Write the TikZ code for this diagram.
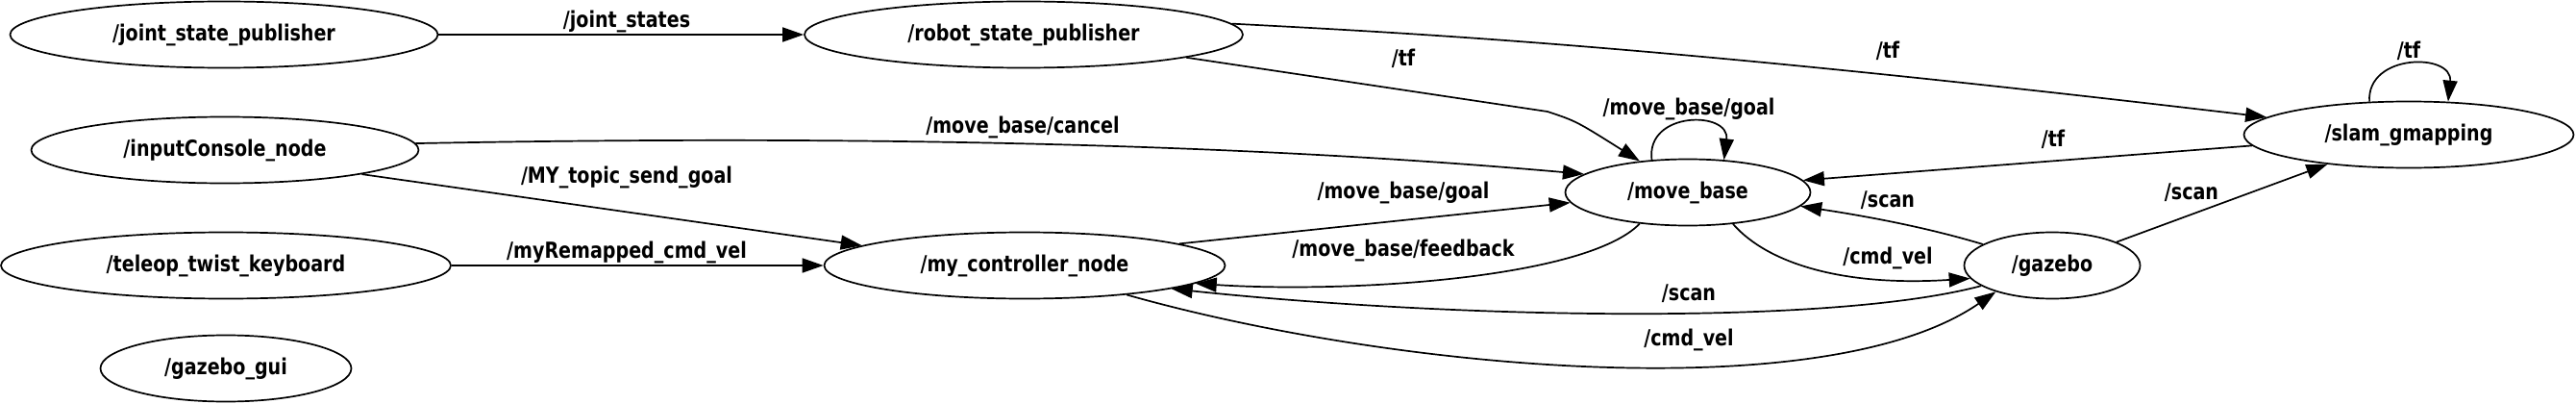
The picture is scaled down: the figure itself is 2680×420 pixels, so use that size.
\documentclass[tikz,border=0pt]{standalone}
\usepackage{fontspec}
\setmainfont{DejaVu Sans}[FakeStretch=0.83]
\usetikzlibrary{arrows.meta,shapes.geometric}

\tikzset{
  rosnode/.style={draw, ellipse, line width=1.7pt, inner sep=0pt, minimum height=69pt, font=\fontsize{23}{27}\selectfont\bfseries},
  topic/.style={inner sep=0pt, font=\fontsize{23}{27}\selectfont\bfseries},
  link/.style={line width=1.7pt, -{Triangle[length=22pt,width=15pt]}}
}

\begin{document}
\begin{tikzpicture}[x=1pt,y=-1pt]
			%%%%% START %%%%%
			\useasboundingbox (0,0) rectangle (2680,420);
			
			\node[rosnode, minimum width=445pt] (jsp) at (233,36) {/joint\_state\_publisher};
			\node[rosnode, minimum width=456pt] (rsp) at (1065,36) {/robot\_state\_publisher};
			\node[rosnode, minimum width=403pt] (icn) at (234,156) {/inputConsole\_node};
			\node[rosnode, minimum width=468pt] (ttk) at (235,276) {/teleop\_twist\_keyboard};
			\node[rosnode, minimum width=261pt] (gui) at (235,383) {/gazebo\_gui};
			\node[rosnode, minimum width=417pt] (mcn) at (1066,276) {/my\_controller\_node};
			\node[rosnode, minimum width=255pt] (mb) at (1756,200) {/move\_base};
			\node[rosnode, minimum width=343pt] (slam) at (2506,140) {/slam\_gmapping};
			\node[rosnode, minimum width=183pt] (gz) at (2135,276) {/gazebo};
			
			\draw[link] (jsp) -- (rsp) node[topic] at (652,22) {/joint\_states};
			\draw[link] (rsp.-8) -- (1610,116) .. controls (1640,126) .. (mb.147) node[topic] at (1460,61) {/tf};
			\draw[link] (rsp.3) .. controls (1500,36) and (1750,50) .. (slam.173) node[topic] at (1964,53) {/tf};
			\draw[link] (slam.140) .. controls (2462,55) and (2552,55) .. (slam.40) node[topic] at (2506,53) {/tf};
			
			\draw[link] (icn.2) .. controls (900,140) and (1300,150) .. (mb.170) node[topic] at (1064,132) {/move\_base/cancel};
			\draw[link] (mb.138) .. controls (1712,115) and (1800,115) .. (mb.42) node[topic] at (1757,113) {/move\_base/goal};
			\draw[link] (slam.184) -- (mb.6) node[topic] at (2136,145) {/tf};
			\draw[link] (icn.-10) -- (mcn.173) node[topic] at (652,184) {/MY\_topic\_send\_goal};
			
			\draw[link] (mcn.8) -- (mb.185) node[topic] at (1460,200) {/move\_base/goal};
			\draw[link] (gz.163) .. controls (2010,238) and (1950,226) .. (mb.-7) node[topic] at (1964,208) {/scan};
			\draw[link] (gz.20) -- (slam.200) node[topic] at (2280,200) {/scan};
			\draw[link] (mb.213) .. controls (1650,290) and (1400,305) .. (mcn.-6) node[topic] at (1460,260) {/move\_base/feedback};
			\draw[link] (ttk) -- (mcn) node[topic] at (652,262) {/myRemapped\_cmd\_vel};
			\draw[link] (mb.-35) .. controls (1840,275) and (1920,298) .. (gz.189) node[topic] at (1964,268) {/cmd\_vel};
			
			\draw[link] (gz.196) .. controls (1900,340) and (1500,330) .. (mcn.-9) node[topic] at (1757,305) {/scan};
			\draw[link] (mcn.-16) .. controls (1450,385) and (1900,425) .. (gz.205) node[topic] at (1757,353) {/cmd\_vel};
			
			%%%%% END %%%%%
\end{tikzpicture}
\end{document}
